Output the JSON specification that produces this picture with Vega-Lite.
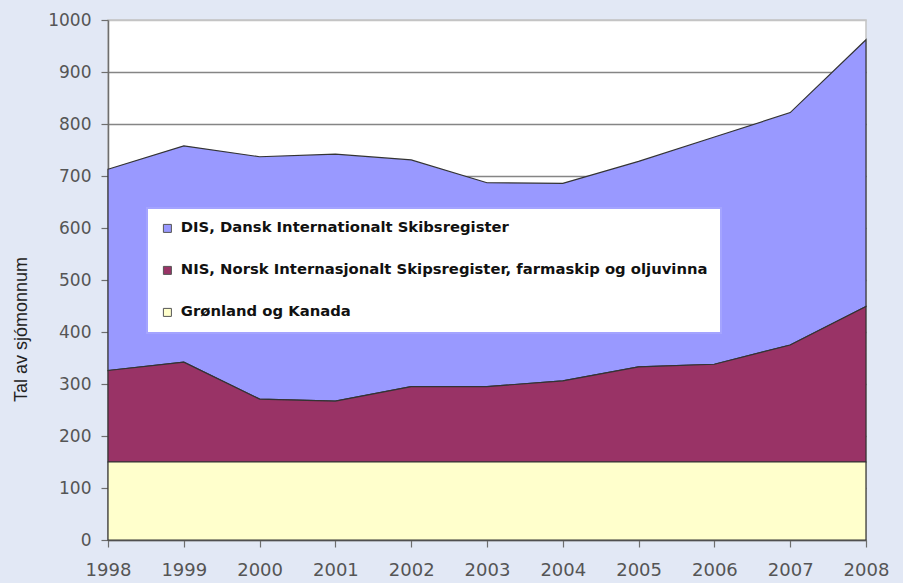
{
  "$schema": "https://vega.github.io/schema/vega-lite/v6.json",
  "autosize": {"type": "none"},
  "padding": {"left": 108, "top": 20, "right": 37, "bottom": 43},
  "width": 758,
  "height": 520,
  "background": "#e2e8f5",
  "config": {
    "view": {"fill": "#ffffff", "stroke": "#c4c4c4", "strokeWidth": 1.5}
  },
  "data": {
    "values": [
      {"aar": 1998, "serie": "DIS, Dansk Internationalt Skibsregister", "tal": 387},
      {"aar": 1999, "serie": "DIS, Dansk Internationalt Skibsregister", "tal": 416},
      {"aar": 2000, "serie": "DIS, Dansk Internationalt Skibsregister", "tal": 466},
      {"aar": 2001, "serie": "DIS, Dansk Internationalt Skibsregister", "tal": 475},
      {"aar": 2002, "serie": "DIS, Dansk Internationalt Skibsregister", "tal": 436},
      {"aar": 2003, "serie": "DIS, Dansk Internationalt Skibsregister", "tal": 392},
      {"aar": 2004, "serie": "DIS, Dansk Internationalt Skibsregister", "tal": 380},
      {"aar": 2005, "serie": "DIS, Dansk Internationalt Skibsregister", "tal": 395},
      {"aar": 2006, "serie": "DIS, Dansk Internationalt Skibsregister", "tal": 437},
      {"aar": 2007, "serie": "DIS, Dansk Internationalt Skibsregister", "tal": 447},
      {"aar": 2008, "serie": "DIS, Dansk Internationalt Skibsregister", "tal": 513},
      {"aar": 1998, "serie": "NIS, Norsk Internasjonalt Skipsregister, farmaskip og oljuvinna", "tal": 176},
      {"aar": 1999, "serie": "NIS, Norsk Internasjonalt Skipsregister, farmaskip og oljuvinna", "tal": 192},
      {"aar": 2000, "serie": "NIS, Norsk Internasjonalt Skipsregister, farmaskip og oljuvinna", "tal": 121},
      {"aar": 2001, "serie": "NIS, Norsk Internasjonalt Skipsregister, farmaskip og oljuvinna", "tal": 117},
      {"aar": 2002, "serie": "NIS, Norsk Internasjonalt Skipsregister, farmaskip og oljuvinna", "tal": 145},
      {"aar": 2003, "serie": "NIS, Norsk Internasjonalt Skipsregister, farmaskip og oljuvinna", "tal": 145},
      {"aar": 2004, "serie": "NIS, Norsk Internasjonalt Skipsregister, farmaskip og oljuvinna", "tal": 156},
      {"aar": 2005, "serie": "NIS, Norsk Internasjonalt Skipsregister, farmaskip og oljuvinna", "tal": 183},
      {"aar": 2006, "serie": "NIS, Norsk Internasjonalt Skipsregister, farmaskip og oljuvinna", "tal": 188},
      {"aar": 2007, "serie": "NIS, Norsk Internasjonalt Skipsregister, farmaskip og oljuvinna", "tal": 225},
      {"aar": 2008, "serie": "NIS, Norsk Internasjonalt Skipsregister, farmaskip og oljuvinna", "tal": 299},
      {"aar": 1998, "serie": "Grønland og Kanada", "tal": 150},
      {"aar": 1999, "serie": "Grønland og Kanada", "tal": 150},
      {"aar": 2000, "serie": "Grønland og Kanada", "tal": 150},
      {"aar": 2001, "serie": "Grønland og Kanada", "tal": 150},
      {"aar": 2002, "serie": "Grønland og Kanada", "tal": 150},
      {"aar": 2003, "serie": "Grønland og Kanada", "tal": 150},
      {"aar": 2004, "serie": "Grønland og Kanada", "tal": 150},
      {"aar": 2005, "serie": "Grønland og Kanada", "tal": 150},
      {"aar": 2006, "serie": "Grønland og Kanada", "tal": 150},
      {"aar": 2007, "serie": "Grønland og Kanada", "tal": 150},
      {"aar": 2008, "serie": "Grønland og Kanada", "tal": 150}
    ]
  },
  "transform": [
    {"calculate": "datum.serie === 'Grønland og Kanada' ? 0 : (datum.serie === 'DIS, Dansk Internationalt Skibsregister' ? 2 : 1)", "as": "stabel"}
  ],
  "mark": {"type": "area", "stroke": "#333333", "strokeWidth": 1.2, "opacity": 1},
  "encoding": {
    "x": {
      "field": "aar",
      "type": "quantitative",
      "scale": {"domain": [1998, 2008], "nice": false, "zero": false},
      "axis": {
        "title": null,
        "values": [1998, 1999, 2000, 2001, 2002, 2003, 2004, 2005, 2006, 2007, 2008],
        "format": "d",
        "grid": false,
        "domainColor": "#6e6e6e",
        "domainWidth": 1.5,
        "tickColor": "#6e6e6e",
        "tickWidth": 1.2,
        "tickSize": 7,
        "labelFont": "DejaVu Sans",
        "labelFontSize": 18,
        "labelColor": "#555555",
        "labelPadding": 14,
        "labelFlush": false
      }
    },
    "y": {
      "field": "tal",
      "type": "quantitative",
      "stack": "zero",
      "scale": {"domain": [0, 1000], "nice": false},
      "axis": {
        "title": "Tal av sjómonnum",
        "values": [0, 100, 200, 300, 400, 500, 600, 700, 800, 900, 1000],
        "format": "d",
        "grid": true,
        "gridColor": {"condition": {"test": "datum.value >= 1000", "value": "#c4c4c4"}, "value": "#858585"},
        "gridWidth": 1.6,
        "domainColor": "#6e6e6e",
        "domainWidth": 1.5,
        "tickColor": "#6e6e6e",
        "tickWidth": 1.2,
        "tickSize": 7,
        "labelFont": "DejaVu Sans",
        "labelFontSize": 17,
        "labelColor": "#555555",
        "labelPadding": 10,
        "labelFlush": false,
        "titleFont": "Liberation Sans",
        "titleFontSize": 18,
        "titleFontWeight": "normal",
        "titleColor": "#222222",
        "titleAngle": 270,
        "titleX": -87,
        "titleY": 309,
        "titleAlign": "center",
        "titleBaseline": "middle"
      }
    },
    "fill": {
      "field": "serie",
      "type": "nominal",
      "scale": {
        "domain": ["DIS, Dansk Internationalt Skibsregister", "NIS, Norsk Internasjonalt Skipsregister, farmaskip og oljuvinna", "Grønland og Kanada"],
        "range": ["#9999ff", "#993366", "#ffffcc"]
      },
      "legend": {
        "title": null,
        "orient": "none",
        "legendX": 39,
        "legendY": 188,
        "fillColor": "#ffffff",
        "strokeColor": "#a4a4ff",
        "padding": 13,
        "rowPadding": 26,
        "symbolType": "square",
        "symbolSize": 64,
        "symbolStrokeColor": "#555555",
        "symbolStrokeWidth": 1,
        "symbolOpacity": 1,
        "labelFont": "DejaVu Sans",
        "labelFontSize": 14.8,
        "labelFontWeight": "bold",
        "labelColor": "#111111",
        "labelOffset": 6,
        "labelLimit": 700,
        "encode": {"legend": {"update": {"strokeWidth": {"value": 2}}}}
      }
    },
    "order": {"field": "stabel", "type": "quantitative"}
  }
}
